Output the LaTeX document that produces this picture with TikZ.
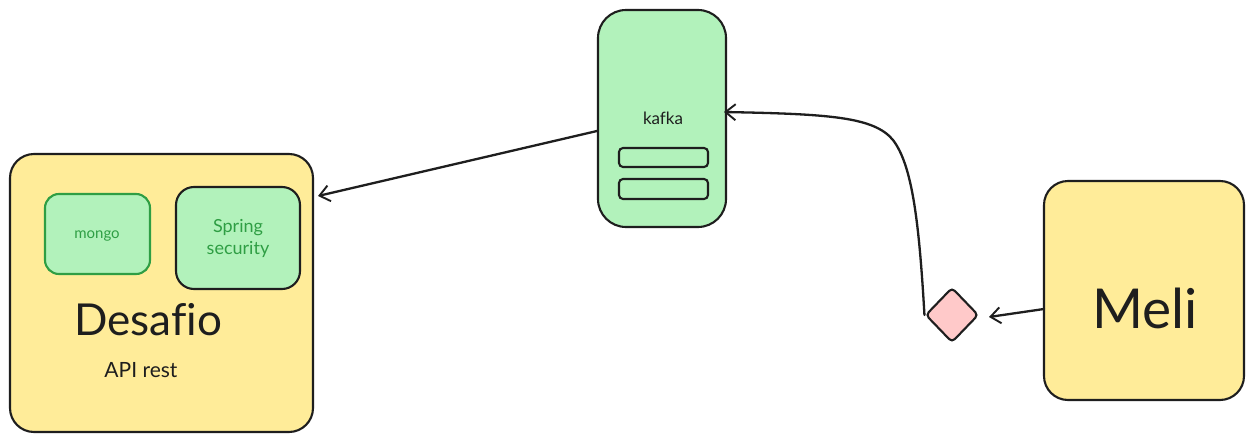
\documentclass[tikz,border=0pt]{standalone}
\usepackage{fontspec}
\setmainfont{Lato}[Ligatures=NoCommon]
\usetikzlibrary{arrows.meta,shapes.geometric}
\definecolor{ink}{HTML}{1E1E1E}
\definecolor{yel}{HTML}{FFEC99}
\definecolor{grn}{HTML}{B2F2BB}
\definecolor{grnd}{HTML}{2F9E44}
\definecolor{pnk}{HTML}{FFC9C9}
\tikzset{
  box/.style={draw=ink, line width=2.1pt, rounded corners=#1},
  box/.default=20pt,
  conn/.style={draw=ink, line width=2.3pt, line cap=round, -{Straight Barb[length=10pt,width=16pt,line width=1.9pt]}},
}
\begin{document}
\begin{tikzpicture}[x=1pt,y=-1pt]
\useasboundingbox[fill=white] (0,0) rectangle (1254,442);
% Desafio
\draw[box=24pt, fill=yel] (10,154) rectangle (313,432);
\coordinate (desIn) at (318,196);
\draw[draw=grnd, line width=2.1pt, rounded corners=14pt, fill=grn] (45,194) rectangle (150,274);
\node[text=grnd, font=\fontsize{15}{17}\selectfont] (mongo) at (97,236) {mongo};
\draw[box=18pt, fill=grn] (176,187) rectangle (300,289);
\node[text=grnd, font=\fontsize{18}{22}\selectfont, align=center] (spring) at (238,238) {Spring\\security};
\node[text=ink, font=\fontsize{44}{46}\selectfont] (desafio) at (148,320) {Desafio};
\node[text=ink, font=\fontsize{21}{24}\selectfont] (api) at (141,370) {API rest};
% kafka
\draw[box=28pt, fill=grn] (598,10) rectangle (726,227);
\node[text=ink, font=\fontsize{17}{19}\selectfont] (kafka) at (663,118) {kafka};
\draw[box=4pt] (619,148) rectangle (708,167);
\draw[box=4pt] (619,179) rectangle (708,199);
\coordinate (kafOut) at (597,131);
\coordinate (kafIn) at (724,112);
% Meli
\draw[box=24pt, fill=yel] (1044,181) rectangle (1244,400);
\node[text=ink, font=\fontsize{55}{57}\selectfont] (meli) at (1145,308) {Meli};
\coordinate (meliOut) at (1044,309);
% diamond
\node[diamond, draw=ink, line width=2.1pt, fill=pnk, minimum width=53pt, minimum height=55pt, inner sep=0pt, rounded corners=4pt] (dia) at (952,315) {};
\coordinate (diaIn) at (989,317);
\coordinate (bend) at (893,140);
% connectors
\draw[conn] (kafOut) -- (desIn);
\draw[conn] (meliOut) -- (diaIn);
\draw[conn] (dia.west) .. controls (919,220) and (912,165) .. (bend) .. controls (874,117) and (830,114) .. (kafIn);
\end{tikzpicture}
\end{document}
